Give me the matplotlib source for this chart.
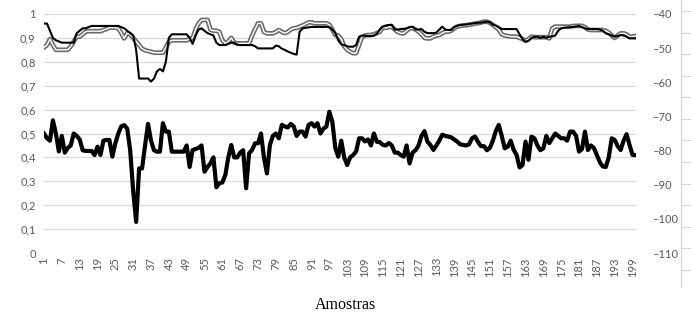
import numpy as np
import matplotlib
matplotlib.use("Agg")
import matplotlib.pyplot as plt
from matplotlib.ticker import FuncFormatter
from matplotlib.lines import Line2D

# amostras 1..200
samples = np.arange(1, 201)

# linha preta fina (eixo esquerdo)
serie_preta = [
    0.96, 0.96, 0.93, 0.90, 0.89, 0.885, 0.88, 0.88, 0.88, 0.88,
    0.88, 0.92, 0.93, 0.94, 0.94, 0.945, 0.95, 0.95, 0.95, 0.95,
    0.95, 0.95, 0.95, 0.95, 0.95, 0.95, 0.945, 0.94, 0.93, 0.92,
    0.91, 0.85, 0.73, 0.73, 0.73, 0.73, 0.717, 0.73, 0.76, 0.77,
    0.76, 0.80, 0.90, 0.915, 0.915, 0.915, 0.915, 0.915, 0.915, 0.90,
    0.875, 0.91, 0.935, 0.94, 0.93, 0.92, 0.915, 0.91, 0.88, 0.87,
    0.87, 0.87, 0.875, 0.88, 0.88, 0.872, 0.87, 0.87, 0.87, 0.87,
    0.87, 0.865, 0.856, 0.856, 0.856, 0.856, 0.856, 0.856, 0.868, 0.865,
    0.855, 0.85, 0.843, 0.838, 0.833, 0.83, 0.926, 0.94, 0.942, 0.944,
    0.946, 0.946, 0.946, 0.946, 0.946, 0.946, 0.945, 0.935, 0.92, 0.89,
    0.873, 0.87, 0.865, 0.863, 0.863, 0.87, 0.905, 0.909, 0.909, 0.908,
    0.908, 0.91, 0.918, 0.935, 0.947, 0.952, 0.954, 0.955, 0.935, 0.935,
    0.937, 0.938, 0.94, 0.945, 0.947, 0.935, 0.935, 0.937, 0.926, 0.92,
    0.92, 0.92, 0.922, 0.935, 0.947, 0.935, 0.933, 0.933, 0.945, 0.95,
    0.954, 0.955, 0.956, 0.958, 0.96, 0.962, 0.963, 0.964, 0.966, 0.968,
    0.965, 0.955, 0.952, 0.945, 0.937, 0.937, 0.937, 0.937, 0.937, 0.937,
    0.915, 0.895, 0.884, 0.888, 0.90, 0.905, 0.905, 0.90, 0.905, 0.90,
    0.905, 0.906, 0.91, 0.93, 0.94, 0.943, 0.944, 0.945, 0.946, 0.948,
    0.95, 0.945, 0.94, 0.937, 0.937, 0.937, 0.937, 0.935, 0.93, 0.919,
    0.915, 0.91, 0.905, 0.908, 0.912, 0.91, 0.905, 0.898, 0.898, 0.898,
]

# linha dupla cinza (eixo esquerdo)
serie_dupla = [
    0.86, 0.87, 0.895, 0.87, 0.85, 0.85, 0.85, 0.85, 0.85, 0.865,
    0.884, 0.905, 0.905, 0.915, 0.926, 0.928, 0.928, 0.928, 0.928, 0.928,
    0.933, 0.937, 0.943, 0.943, 0.943, 0.94, 0.92, 0.898, 0.92, 0.915,
    0.90, 0.885, 0.87, 0.855, 0.848, 0.845, 0.842, 0.838, 0.838, 0.838,
    0.838, 0.86, 0.884, 0.89, 0.89, 0.89, 0.89, 0.89, 0.89, 0.895,
    0.90, 0.935, 0.96, 0.975, 0.975, 0.975, 0.935, 0.93, 0.93, 0.925,
    0.89, 0.877, 0.885, 0.90, 0.88, 0.877, 0.877, 0.877, 0.877, 0.877,
    0.91, 0.935, 0.961, 0.961, 0.925, 0.919, 0.919, 0.919, 0.925, 0.933,
    0.925, 0.92, 0.925, 0.935, 0.94, 0.942, 0.947, 0.952, 0.958, 0.965,
    0.965, 0.961, 0.961, 0.961, 0.961, 0.961, 0.955, 0.935, 0.912, 0.91,
    0.895, 0.865, 0.85, 0.842, 0.836, 0.836, 0.87, 0.905, 0.91, 0.912,
    0.912, 0.915, 0.92, 0.926, 0.943, 0.942, 0.945, 0.947, 0.935, 0.925,
    0.92, 0.919, 0.93, 0.94, 0.94, 0.935, 0.926, 0.915, 0.90, 0.898,
    0.898, 0.905, 0.91, 0.912, 0.92, 0.926, 0.926, 0.93, 0.94, 0.947,
    0.95, 0.952, 0.953, 0.955, 0.957, 0.96, 0.962, 0.964, 0.968, 0.968,
    0.963, 0.955, 0.945, 0.935, 0.915, 0.91, 0.908, 0.906, 0.905, 0.905,
    0.90, 0.895, 0.888, 0.895, 0.905, 0.903, 0.903, 0.903, 0.903, 0.903,
    0.898, 0.94, 0.947, 0.947, 0.947, 0.947, 0.947, 0.947, 0.95, 0.95,
    0.951, 0.95, 0.945, 0.935, 0.933, 0.933, 0.933, 0.933, 0.933, 0.93,
    0.922, 0.91, 0.90, 0.91, 0.919, 0.919, 0.915, 0.905, 0.905, 0.908,
]

serie_grossa = [
    0.50, 0.48, 0.47, 0.555, 0.50, 0.425, 0.49, 0.42, 0.44, 0.45,
    0.50, 0.49, 0.475, 0.43, 0.427, 0.427, 0.427, 0.41, 0.445, 0.41,
    0.47, 0.473, 0.473, 0.403, 0.459, 0.50, 0.53, 0.535, 0.52, 0.43,
    0.26, 0.13, 0.354, 0.354, 0.45, 0.54, 0.47, 0.43, 0.424, 0.424,
    0.543, 0.508, 0.508, 0.424, 0.424, 0.424, 0.424, 0.424, 0.45, 0.36,
    0.431, 0.435, 0.44, 0.45, 0.34, 0.36, 0.375, 0.40, 0.275, 0.292,
    0.295, 0.326, 0.40, 0.452, 0.40, 0.40, 0.42, 0.43, 0.271, 0.417,
    0.431, 0.459, 0.459, 0.50, 0.40, 0.333, 0.452, 0.49, 0.50, 0.48,
    0.536, 0.53, 0.525, 0.54, 0.53, 0.49, 0.508, 0.508, 0.487, 0.536,
    0.543, 0.529, 0.543, 0.50, 0.52, 0.529, 0.591, 0.55, 0.44, 0.403,
    0.47, 0.40, 0.368, 0.40, 0.41, 0.424, 0.48, 0.48, 0.467, 0.475,
    0.45, 0.50, 0.465, 0.464, 0.452, 0.45, 0.46, 0.45, 0.42, 0.42,
    0.41, 0.403, 0.45, 0.375, 0.42, 0.43, 0.45, 0.49, 0.51, 0.466,
    0.452, 0.431, 0.45, 0.47, 0.495, 0.49, 0.487, 0.484, 0.475, 0.466,
    0.455, 0.452, 0.45, 0.455, 0.48, 0.487, 0.465, 0.447, 0.447, 0.43,
    0.44, 0.47, 0.51, 0.536, 0.49, 0.438, 0.445, 0.47, 0.432, 0.41,
    0.358, 0.368, 0.466, 0.39, 0.487, 0.48, 0.45, 0.43, 0.438, 0.49,
    0.46, 0.48, 0.50, 0.49, 0.48, 0.48, 0.47, 0.508, 0.508, 0.49,
    0.424, 0.435, 0.508, 0.431, 0.45, 0.44, 0.41, 0.38, 0.362, 0.36,
    0.40, 0.48, 0.473, 0.447, 0.431, 0.47, 0.497, 0.452, 0.41, 0.41,
]

x_ticks = [1, 7, 13, 19, 25, 31, 37, 43, 49, 55, 61, 67, 73, 79, 85, 91, 97,
           103, 109, 115, 121, 127, 133, 139, 145, 151, 157, 163, 169, 175,
           181, 187, 193, 199]
left_ticks = [0, 0.1, 0.2, 0.3, 0.4, 0.5, 0.6, 0.7, 0.8, 0.9, 1.0]
right_ticks = [-110, -100, -90, -80, -70, -60, -50, -40]

assert len(serie_preta) == len(serie_dupla) == len(serie_grossa) == 200

plt.rcParams['font.family'] = ['Lato', 'DejaVu Sans']
cor_texto = '#595959'
cor_grade = '#d9d9d9'

fig = plt.figure(figsize=(6.91, 3.2), dpi=100)
ax = fig.add_axes([44 / 691, 1 - 253 / 320, (635.5 - 44) / 691, (253 - 14) / 320])

# grade horizontal
for t in left_ticks:
    ax.axhline(t, color=cor_grade, lw=0.9, zorder=0)

ax.plot(samples, serie_grossa, color='black', lw=3.0, solid_joinstyle='round', zorder=3)
ax.plot(samples, serie_dupla, color='#6b6b6b', lw=3.4, solid_joinstyle='round', zorder=4)
ax.plot(samples, serie_dupla, color='white', lw=1.0, solid_joinstyle='round', zorder=5)
ax.plot(samples, serie_preta, color='black', lw=1.5, solid_joinstyle='round', zorder=6)

ax.set_xlim(1, 200)
ax.set_ylim(0, 1)
ax.set_yticks(left_ticks)
ax.yaxis.set_major_formatter(FuncFormatter(lambda v, p: ('%g' % v).replace('.', ',')))
ax.set_xticks(x_ticks)
ax.set_xticklabels([str(t) for t in x_ticks], rotation=90)
ax.tick_params(axis='both', length=0, colors=cor_texto, labelsize=8)
ax.tick_params(axis='y', pad=6)
ax.tick_params(axis='x', pad=3)
for s in ax.spines.values():
    s.set_visible(False)

ax2 = ax.twinx()
ax2.set_ylim(-110, -40)
ax2.set_yticks(right_ticks)
ax2.tick_params(axis='y', length=0, colors=cor_texto, labelsize=8, pad=12)
for s in ax2.spines.values():
    s.set_visible(False)

fig.text(345 / 691, 1 - 305 / 320, 'Amostras', ha='center', va='center',
         fontsize=11.5, family='Liberation Serif', color='black')

# borda do grafico vizinho a direita
fig.add_artist(Line2D([681 / 691, 681 / 691], [1.0, 1 - 287 / 320],
                      transform=fig.transFigure, color=cor_grade, lw=0.9))
for yy in [11, 33, 54, 76, 97, 119, 140, 162, 184, 205, 227, 248, 270]:
    fig.add_artist(Line2D([681 / 691, 1.0], [1 - yy / 320, 1 - yy / 320],
                          transform=fig.transFigure, color=cor_grade, lw=0.9))

fig.savefig('out.png', dpi=100)
